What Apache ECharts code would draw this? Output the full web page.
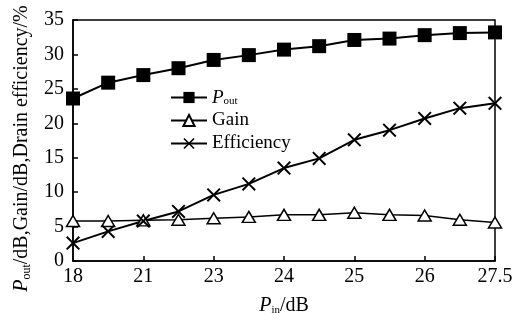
<!DOCTYPE html>
<html>
<head>
<meta charset="utf-8">
<script src="https://cdn.jsdelivr.net/npm/echarts@6/dist/echarts.min.js"></script>
<style>
  html, body { margin: 0; padding: 0; background: #fff; }
  #chart { width: 521px; height: 321px; }
</style>
</head>
<body>
<div id="chart"></div>
<script>
// input power points (dB); only every other one is labelled on the axis
const pinLabels = ["18", "19.5", "21", "22", "23", "23.5", "24", "24.5", "25", "25.5", "26", "27", "27.5"];
const poutData = [23.6, 25.9, 27.0, 28.0, 29.2, 29.9, 30.7, 31.2, 32.1, 32.3, 32.8, 33.1, 33.2];
const gainData = [5.8, 5.8, 5.9, 6.0, 6.2, 6.4, 6.7, 6.7, 7.0, 6.7, 6.6, 6.0, 5.6];
const effData = [2.6, 4.3, 5.8, 7.2, 9.6, 11.2, 13.5, 14.9, 17.6, 19.0, 20.7, 22.2, 22.9];

const serif = "Liberation Serif";
const crossPath = "path://M0,1L1,0L5,4L9,0L10,1L6,5L10,9L9,10L5,6L1,10L0,9L4,5Z";

const chart = echarts.init(document.getElementById("chart"));

chart.setOption({
  animation: false,
  backgroundColor: "#fff",
  textStyle: { fontFamily: serif, color: "#000" },
  grid: {
    left: 73,
    right: 26,
    top: 20,
    bottom: 50,
    show: true,
    borderColor: "#000",
    borderWidth: 1.5,
  },
  legend: {
    left: 165,
    top: 83,
    orient: "vertical",
    itemGap: 4,
    itemWidth: 36,
    itemHeight: 14,
    textStyle: {
      fontFamily: serif,
      fontSize: 19,
      color: "#000",
      rich: {
        p: { fontFamily: serif, fontStyle: "italic", fontSize: 19, color: "#000" },
        sub: { fontFamily: serif, fontSize: 11, color: "#000", verticalAlign: "bottom", padding: [8, 0, 0, 0] },
      },
    },
    formatter: function (name) {
      if (name === "Pout") return "{p|P}{sub|out}";
      return name;
    },
    data: ["Pout", "Gain", "Efficiency"],
  },
  xAxis: {
    type: "category",
    data: pinLabels,
    boundaryGap: false,
    name: "{p|P}{sub|in}{t|/dB}",
    nameLocation: "middle",
    nameGap: 34,
    nameTextStyle: {
      rich: {
        p: { fontFamily: serif, fontStyle: "italic", fontSize: 20, color: "#000" },
        sub: { fontFamily: serif, fontSize: 11, color: "#000", padding: [10, 0, 0, 0] },
        t: { fontFamily: serif, fontSize: 20, color: "#000" },
      },
    },
    axisLine: { lineStyle: { color: "#000", width: 1.5 } },
    axisTick: { inside: true, interval: 1, length: 5, lineStyle: { color: "#000", width: 1.5 } },
    axisLabel: { interval: 1, fontFamily: serif, fontSize: 20, color: "#000", margin: 6 },
    splitLine: { show: false },
  },
  yAxis: {
    type: "value",
    min: 0,
    max: 35,
    interval: 5,
    name: "{p|P}{sub|out}{t|/dB,Gain/dB,Drain efficiency/%}",
    nameLocation: "middle",
    nameGap: 40,
    nameTextStyle: {
      padding: [0, 16, 0, 0],
      rich: {
        p: { fontFamily: serif, fontStyle: "italic", fontSize: 20, color: "#000" },
        sub: { fontFamily: serif, fontSize: 12, color: "#000", padding: [10, 0, 0, 0] },
        t: { fontFamily: serif, fontSize: 20, color: "#000" },
      },
    },
    axisLine: { show: true, lineStyle: { color: "#000", width: 1.5 } },
    axisTick: { show: true, inside: true, length: 5, lineStyle: { color: "#000", width: 1.5 } },
    axisLabel: { fontFamily: serif, fontSize: 20, color: "#000", margin: 9 },
    splitLine: { show: false },
  },
  series: [
    {
      name: "Pout",
      type: "line",
      data: poutData,
      symbol: "rect",
      symbolSize: 14,
      lineStyle: { color: "#000", width: 2 },
      itemStyle: { color: "#000" },
    },
    {
      name: "Gain",
      type: "line",
      data: gainData,
      symbol: "triangle",
      symbolSize: [13, 11],
      lineStyle: { color: "#000", width: 1.5 },
      itemStyle: { color: "#fff", borderColor: "#000", borderWidth: 1.5 },
    },
    {
      name: "Efficiency",
      type: "line",
      data: effData,
      symbol: crossPath,
      symbolSize: 14,
      lineStyle: { color: "#000", width: 2 },
      itemStyle: { color: "#000" },
    },
  ],
});
</script>
</body>
</html>
